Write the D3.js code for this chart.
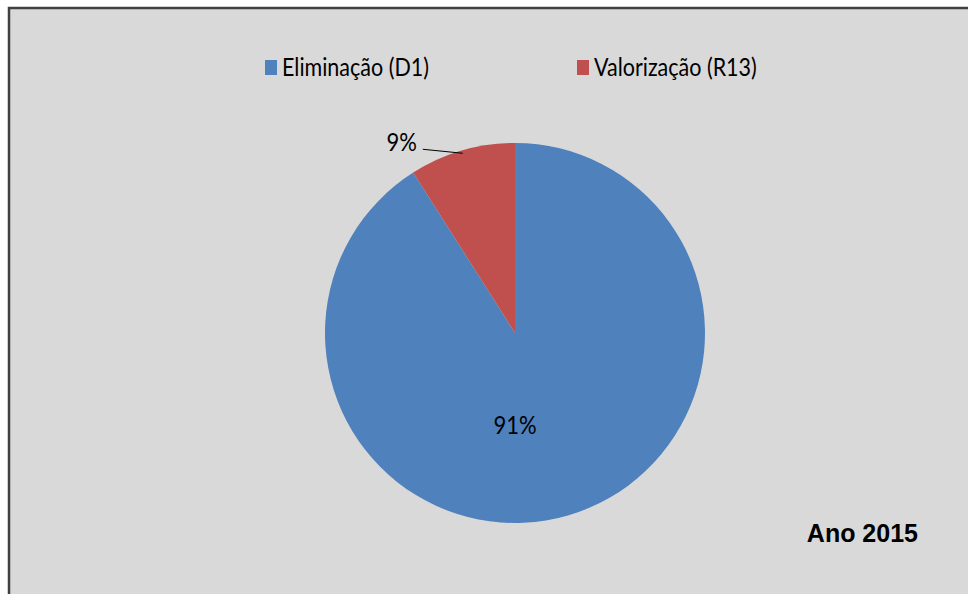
<!DOCTYPE html>
<html>
<head>
<meta charset="utf-8">
<script src="https://cdn.jsdelivr.net/npm/d3@7"></script>
<style>
  html, body { margin: 0; padding: 0; background: #fff; }
  svg { display: block; }
</style>
</head>
<body>
<svg id="chart"></svg>
<script>
const categories = ["Eliminação (D1)", "Valorização (R13)"]
const values = [91, 9]
const labels = ["91%", "9%"]
const colors = ["#4f81bd", "#c0504d"]
const title = "Ano 2015"

const width = 968
const height = 594
const svg = d3.select("#chart").attr("width", width).attr("height", height)

// chart area frame
svg.append("rect")
  .attr("x", 9).attr("y", 8)
  .attr("width", width).attr("height", height)
  .attr("fill", "#d9d9d9")
  .attr("stroke", "#404040")
  .attr("stroke-width", 2.5)

const center = { x: 515, y: 333 }
const radius = 190

const pie = d3.pie().sort(null).value((d) => d)
const arcs = pie(values)
const arc = d3.arc().innerRadius(0).outerRadius(radius)

const graph = svg.append("g")
  .attr("transform", `translate(${center.x}, ${center.y})`)

graph.selectAll("path.slice")
  .data(arcs)
  .join("path")
  .attr("class", "slice")
  .attr("d", arc)
  .attr("fill", (d, i) => colors[i])

const font = "Lato, 'Open Sans', sans-serif"

// text stretched a bit taller, like the original rendering
const tallText = (parent, x, y, str, size, anchor = "start", sy = 1.15) =>
  parent.append("text")
    .attr("transform", `translate(${x}, ${y}) scale(1, ${sy})`)
    .attr("dy", "0.35em")
    .attr("text-anchor", anchor)
    .style("font-family", font)
    .style("font-size", size + "px")
    .attr("fill", "#000")
    .text(str)

// big slice label, inside below the centre
tallText(graph, 0, radius * 0.485, labels[0], 22, "middle", 1.12)

// small slice label, outside with leader line
const mid = (arcs[1].startAngle + arcs[1].endAngle) / 2
const edge = [Math.sin(mid) * radius * 0.985, -Math.cos(mid) * radius * 0.985]
const elbow = [edge[0] - 40, edge[1] - 4]
graph.append("path")
  .attr("d", d3.line()([edge, elbow]))
  .attr("stroke", "#000")
  .attr("stroke-width", 1)
  .attr("fill", "none")
tallText(graph, elbow[0] - 6, elbow[1] - 7, labels[1], 22, "end", 1.12)

// legend
const legendX = [265, 577]
const legend = svg.append("g")
categories.forEach((name, i) => {
  legend.append("rect")
    .attr("x", legendX[i]).attr("y", 60)
    .attr("width", 12).attr("height", 15)
    .attr("fill", colors[i])
  tallText(legend, legendX[i] + 17, 67, name, 21.5, "start", 1.15)
})

svg.append("text")
  .attr("x", 918)
  .attr("y", 533)
  .attr("dy", "0.35em")
  .attr("text-anchor", "end")
  .style("font-family", "'Liberation Sans', Arial, sans-serif")
  .style("font-weight", "bold")
  .style("font-size", "25px")
  .attr("fill", "#000")
  .text(title)
</script>
</body>
</html>
